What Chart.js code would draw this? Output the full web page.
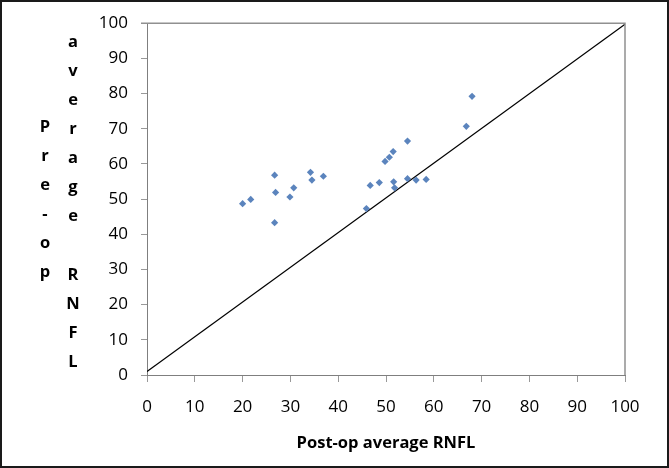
<!DOCTYPE html>
<html>
<head>
<meta charset="utf-8">
<script src="https://cdn.jsdelivr.net/npm/chart.js@4"></script>
<style>
html, body { margin: 0; padding: 0; background: #fff; }
#wrap { width: 669px; height: 468px; position: relative; }
</style>
</head>
<body>
<div id="wrap"><canvas id="scatterChart"></canvas></div>
<script>
// post-op (x) vs pre-op (y) average RNFL
var postOp = [20.0, 21.7, 26.7, 26.9, 26.7, 29.9, 30.7, 34.2, 34.5, 36.9, 45.9, 46.7,
              48.6, 51.6, 51.8, 49.8, 50.7, 51.5, 54.5, 54.5, 56.3, 58.4, 66.8, 68.0];
var preOp  = [48.7, 49.9, 56.8, 51.9, 43.3, 50.6, 53.2, 57.6, 55.4, 56.5, 47.3, 53.9,
              54.7, 54.9, 53.2, 60.7, 61.9, 63.5, 66.5, 55.8, 55.4, 55.6, 70.7, 79.2];
// reference line
var lineX = [0, 100];
var lineY = [1, 99.7];
var ticks = [0, 10, 20, 30, 40, 50, 60, 70, 80, 90, 100];
var yTitleCols = ["Pre-op", "average RNFL"];

var pts = postOp.map(function (v, i) { return {x: v, y: preOp[i]}; });
var linePts = lineX.map(function (v, i) { return {x: v, y: lineY[i]}; });

// stacked letters for the y title, plot box and outer frame
var extras = {
  id: 'extras',
  afterDraw: function (chart) {
    var c = chart.ctx, a = chart.chartArea;
    c.save();
    c.strokeStyle = '#909090';
    c.lineWidth = 1.5;
    c.beginPath();
    c.moveTo(a.left - 6, a.top);
    c.lineTo(a.right, a.top);
    c.lineTo(a.right, a.bottom);
    c.stroke();

    c.fillStyle = '#000';
    c.font = 'bold 16.5px "Open Sans"';
    c.textAlign = 'center';
    c.textBaseline = 'middle';
    var step = 29.1;
    var col1 = yTitleCols[0].split('');
    col1.forEach(function (ch, i) { c.fillText(ch, 45, 127 + i * step); });
    var col2 = yTitleCols[1].split('');
    col2.forEach(function (ch, i) { c.fillText(ch, 73, 42 + i * step); });

    c.strokeStyle = '#1a1a1a';
    c.lineWidth = 2;
    c.strokeRect(1, 1, 667, 466);
    c.restore();
  }
};

var ctxS = document.getElementById("scatterChart").getContext('2d');
var myScatter = new Chart(ctxS, {
type: 'scatter',
data: {
datasets: [{
data: pts,
pointStyle: 'rectRot',
pointRadius: 3.6,
pointBackgroundColor: '#5B84BD',
pointBorderWidth: 0,
order: 1
}, {
type: 'line',
data: linePts,
borderColor: '#000',
borderWidth: 1.2,
pointRadius: 0,
fill: false,
order: 2
}]
},
plugins: [extras],
options: {
responsive: true,
maintainAspectRatio: false,
animation: false,
layout: { padding: { top: 19, right: 44, bottom: 0, left: 0 } },
plugins: { legend: { display: false }, tooltip: { enabled: false } },
scales: {
x: {
type: 'linear',
min: 0, max: 100,
afterBuildTicks: function (s) { s.ticks = ticks.map(function (v) { return {value: v}; }); },
afterFit: function (s) { s.height = 93; },
grid: { drawOnChartArea: false, tickLength: 7, color: '#999', lineWidth: 1 },
border: { color: '#7f7f7f', width: 1 },
ticks: { color: '#000', padding: 15, font: { family: 'Open Sans', size: 17 } },
title: { display: true, text: 'Post-op average RNFL', color: '#000',
         font: { family: 'Open Sans', size: 16.5, weight: 'bold' }, padding: { top: 0, bottom: 15 } }
},
y: {
type: 'linear',
min: 0, max: 100,
afterBuildTicks: function (s) { s.ticks = ticks.map(function (v) { return {value: v}; }); },
afterFit: function (s) { s.width = 147; },
grid: { drawOnChartArea: false, tickLength: 6, color: '#999', lineWidth: 1 },
border: { color: '#7f7f7f', width: 1 },
ticks: { color: '#000', padding: 13, font: { family: 'Open Sans', size: 17 } }
}
}
}
});
</script>
</body>
</html>
